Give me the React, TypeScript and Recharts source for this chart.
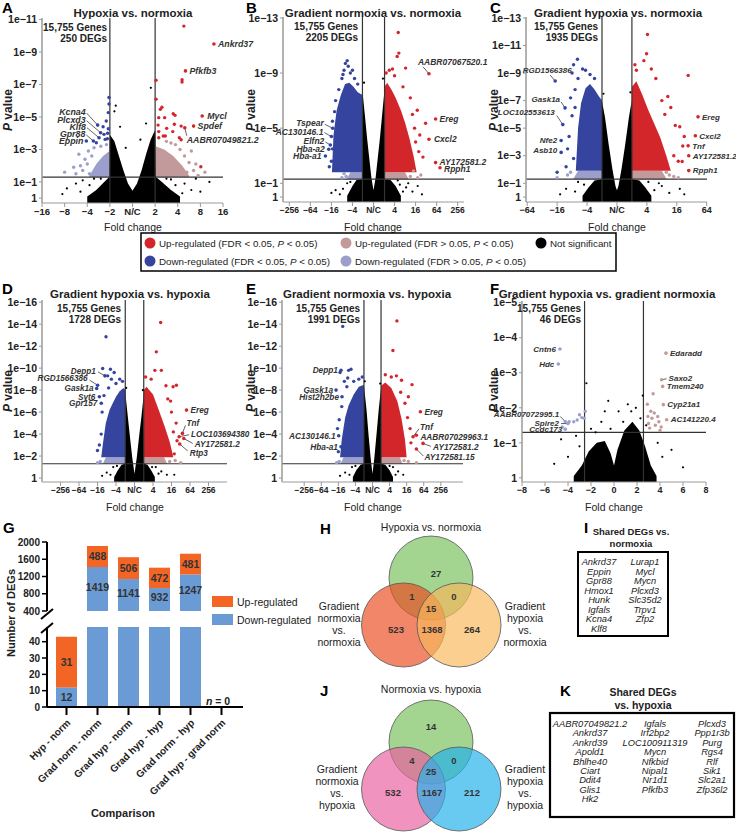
import React from 'react';
import {
  ComposedChart, Area, Scatter, XAxis, YAxis, ReferenceLine,
  BarChart, Bar, LabelList, ScatterChart,
} from 'recharts';

const FONT = '"Liberation Sans", Arial, Helvetica, sans-serif';
type P = [number, number];
type G = [string, number, number];

const RED = '#d3262b';
const BLUE = '#34449f';
const LRED = '#c39a9c';
const LBLUE = '#9c9fcb';
const AXIS = '#9a9a9a';

// ---------------- Volcano data (x = signed log2 fold change, y = -log10 P) ----------------
const panelTitles = ['Hypoxia vs. normoxia', 'Gradient normoxia vs. normoxia', 'Gradient hypoxia vs. normoxia',
  'Gradient hypoxia vs. hypoxia', 'Gradient normoxia vs. hypoxia', 'Gradient hypoxia vs. gradient normoxia'];
const geneTotals = ['15,755 Genes', '15,755 Genes', '15,755 Genes', '15,755 Genes', '15,755 Genes', '15,755 Genes'];
const degTotals = ['250 DEGs', '2205 DEGs', '1935 DEGs', '1728 DEGs', '1991 DEGs', '46 DEGs'];

const log2Labels16 = ['−16', '−8', '−4', '−2', 'N/C', '2', '4', '8', '16'];
const log2Labels256 = ['−256', '−64', '−16', '−4', 'N/C', '4', '16', '64', '256'];
const log2Labels64 = ['−64', '−16', '−4', 'N/C', '4', '16', '64'];
const linLabels8 = ['−8', '−6', '−4', '−2', '0', '2', '4', '6', '8'];

// A
const aBlackEnv: P[] = [[-2.0, 0.1], [-1.6, 0.5], [-1.25, 1.0], [-1.03, 1.3], [-1.0, 3.9], [-0.8, 3.5], [-0.6, 2.6], [-0.4, 1.7], [-0.2, 0.9], [0, 0.45], [0.2, 0.9], [0.4, 1.7], [0.6, 2.7], [0.8, 3.6], [1.0, 4.2], [1.04, 1.3], [1.3, 1.0], [1.7, 0.5], [2.1, 0.1]];
const aLblueEnv: P[] = [[-1.9, 1.4], [-1.6, 2.1], [-1.3, 2.6], [-1.02, 2.9]];
const aLredEnv: P[] = [[1.02, 3.2], [1.4, 3.0], [1.8, 2.6], [2.2, 2.0], [2.5, 1.4]];
const aBlack: P[] = [[-0.74, 5.7], [-0.8, 5.35], [-0.55, 4.4], [0.81, 6.8], [0.6, 4.6], [0.35, 3.6], [-0.3, 3.1], [-2.5, 0.9], [-2.9, 0.6], [-3.1, 0.25], [-2.2, 1.1], [2.3, 0.9], [2.6, 0.5], [3.4, 1.0], [3.0, 0.4], [2.8, 1.2], [-1.7, 1.2], [1.7, 1.15], [-1.9, 0.8], [-2.3, 0.4], [1.9, 0.8], [2.2, 0.3], [-1.4, 1.2], [1.5, 1.2]];
const aBlue: P[] = [[-1.04, 6.2], [-1.04, 5.8], [-1.07, 5.27], [-1.16, 4.75], [-1.07, 4.28], [-1.26, 3.93], [-1.6, 3.41], [-1.21, 3.62], [-1.11, 3.66], [-1.1, 4.0], [-1.3, 4.4]];
const aRed: P[] = [[2.27, 10.6], [2.19, 7.3], [2.19, 7.15], [1.04, 7.26], [1.04, 6.1], [1.3, 5.6], [1.23, 5.47], [1.8, 5.2], [1.88, 5.1], [1.16, 4.96], [1.42, 4.96], [1.85, 4.55], [1.13, 4.5], [2.15, 4.44], [1.51, 4.3], [1.78, 4.1], [1.16, 4.1], [1.16, 3.72], [1.36, 3.83], [1.45, 3.83], [2.07, 3.72], [2.15, 3.6], [3.02, 1.93]];
const aLblue: P[] = [[-3.0, 1.6], [-2.37, 2.7], [-2.3, 2.0], [-2.1, 2.4], [-1.95, 2.9], [-1.8, 2.6], [-2.2, 1.7], [-1.7, 3.1], [-1.4, 3.2], [-2.5, 1.5], [-1.9, 1.5], [-1.15, 3.3], [-2.6, 1.9], [-2.0, 2.1]];
const aLred: P[] = [[2.9, 1.4], [2.7, 1.7], [2.5, 2.2], [2.3, 2.6], [2.1, 3.0], [1.9, 3.3], [2.6, 2.9], [1.5, 3.5], [3.2, 1.6], [2.4, 1.6], [2.8, 2.1], [1.7, 3.4]];
const aBlueGenes: G[] = [['Kcna4', -1.54, 4.5], ['Plcxd3', -1.41, 4.03], ['Klf8', -1.48, 3.72], ['Gpr88', -1.73, 3.52], ['Eppin', -2.04, 3.52]];
const aRedGenes: G[] = [['Ankrd37', 3.6, 9.5], ['Pfkfb3', 2.34, 7.84], ['Mycl', 3.08, 5.06], ['Spdef', 2.7, 4.44], ['AABR07049821.2', 2.31, 4.34]];

// B
const bBlackEnv: P[] = [[-2.5, 0.1], [-2.0, 0.8], [-1.6, 1.25], [-1.08, 1.3], [-1.04, 7.6], [-0.8, 5.8], [-0.6, 4.2], [-0.4, 2.8], [-0.2, 1.4], [0, 0.5], [0.2, 1.4], [0.4, 2.8], [0.6, 4.2], [0.8, 5.8], [1.05, 7.8], [1.1, 1.3], [1.6, 1.25], [2.1, 0.8], [2.6, 0.1]];
const bLblueEnv: P[] = [[-2.5, 1.35], [-2.2, 1.8], [-1.05, 1.8]];
const bLredEnv: P[] = [[1.05, 1.8], [3.0, 1.8], [3.3, 1.35]];
const bBlueEnv: P[] = [[-3.95, 1.8], [-3.8, 4.5], [-3.5, 6.3], [-3.1, 7.4], [-2.7, 8.2], [-2.3, 8.3], [-1.9, 8.0], [-1.5, 7.6], [-1.05, 7.4]];
const bRedEnv: P[] = [[1.05, 8.0], [1.3, 8.3], [1.7, 7.8], [2.1, 7.2], [2.6, 6.3], [3.0, 5.4], [3.4, 4.3], [3.8, 3.0], [4.1, 1.8]];
const bBlack: P[] = [[-3.6, 0.5], [-4.0, 0.3], [3.7, 0.4], [4.2, 0.8], [3.3, 1.0], [-0.9, 8.3], [0.9, 8.6], [2.5, 0.9], [-2.5, 1.0], [4.6, 0.2], [-2.9, 0.6], [-3.2, 0.2], [2.8, 0.4], [3.1, 0.7], [-2.2, 1.1], [2.3, 1.2]];
const bBlue: P[] = [[-2.67, 9.7], [-2.4, 9.5], [-2.8, 9.2], [-2.2, 9.0], [-3.0, 8.6], [-3.3, 7.8], [-3.6, 7.0], [-3.7, 6.2], [-3.9, 5.5], [-3.9, 3.5], [-4.0, 2.6], [-1.8, 8.6], [-1.5, 8.2], [-2.0, 9.2], [-3.4, 2.0], [-2.5, 9.9], [-2.9, 8.9], [-4.2, 2.2]];
const bRed: P[] = [[2.35, 11.95], [2.41, 10.45], [2.25, 10.2], [3.05, 9.36], [4.16, 6.3], [4.95, 5.36], [1.5, 9.2], [1.2, 9.0], [2.8, 8.0], [3.5, 7.2], [3.9, 5.0], [4.4, 4.5], [4.3, 3.3], [4.7, 2.9], [3.7, 6.0], [2.0, 8.8], [1.8, 9.3], [4.0, 4.0]];
const bLblue: P[] = [[-2.6, 1.5], [-3.0, 1.4], [-2.8, 1.7]];
const bLred: P[] = [[3.5, 1.5], [4.5, 1.6], [4.2, 1.4], [3.8, 1.9]];
const bBlueGenes: G[] = [['Tspear', -3.87, 4.99], ['AC130146.1', -4.0, 4.39], ['Elfn2', -4.1, 3.78], ['Hba-a2', -4.25, 3.47], ['Hba-a1', -4.57, 2.98]];
const bRedGenes: G[] = [['AABR07067520.1', 5.27, 8.95], ['Ereg', 5.9, 5.67], ['Cxcl2', 5.27, 4.2], ['AY172581.2', 5.9, 2.5], ['Rpph1', 6.32, 2.13]];

// C
const cBlackEnv: P[] = [[-2.3, 0.1], [-1.9, 0.7], [-1.5, 1.2], [-1.04, 1.3], [-1.01, 7.0], [-0.8, 5.8], [-0.55, 3.8], [-0.3, 2.0], [-0.1, 0.8], [0, 0.5], [0.1, 0.8], [0.3, 2.0], [0.55, 3.8], [0.8, 5.8], [0.99, 7.0], [1.03, 1.3], [1.5, 1.2], [1.9, 0.7], [2.3, 0.1]];
const cLblueEnv: P[] = [[-2.9, 1.35], [-2.6, 1.9], [-1.0, 1.9]];
const cLredEnv: P[] = [[1.0, 1.9], [3.0, 1.9], [3.3, 1.35]];
const cBlueEnv: P[] = [[-2.75, 1.9], [-2.6, 5.0], [-2.4, 6.8], [-2.1, 7.9], [-1.8, 8.2], [-1.5, 7.8], [-1.2, 7.3], [-1.0, 7.0]];
const cRedEnv: P[] = [[1.0, 8.0], [1.3, 8.4], [1.7, 7.4], [2.1, 6.3], [2.5, 5.3], [2.9, 4.3], [3.3, 3.0], [3.6, 1.9]];
const cBlack: P[] = [[-3.4, 0.6], [-3.8, 0.2], [3.5, 0.3], [4.2, 0.6], [4.5, 0.2], [2.8, 1.0], [-2.6, 1.1], [-0.9, 7.5], [0.9, 7.6], [-1.5, 0.3], [-2.8, 0.4], [2.5, 0.5], [3.0, 0.8], [-2.2, 0.9], [2.1, 1.1]];
const cBlue: P[] = [[-2.64, 10.0], [-2.9, 9.6], [-3.0, 9.0], [-2.3, 9.3], [-2.1, 9.2], [-3.2, 4.4], [-3.3, 3.5], [-3.1, 7.2], [-2.8, 7.8], [-3.0, 5.9], [-2.9, 2.8], [-4.0, 1.8], [-1.8, 8.9], [-2.6, 8.6], [-3.4, 2.2], [-2.8, 6.5], [-1.5, 8.6]];
const cRed: P[] = [[2.04, 11.8], [1.98, 10.4], [1.8, 9.9], [1.3, 9.2], [1.2, 9.6], [2.3, 9.3], [2.6, 8.6], [4.76, 8.83], [4.36, 2.58], [3.6, 6.5], [3.9, 5.2], [4.2, 5.1], [3.4, 7.3], [4.4, 3.7], [3.8, 3.0], [3.0, 7.0], [4.1, 2.6], [3.2, 6.0], [4.5, 4.4]];
const cLblue: P[] = [[-4.0, 1.4], [-3.3, 1.6], [-3.1, 1.8]];
const cLred: P[] = [[3.5, 1.6], [3.8, 1.5], [4.1, 1.4], [3.3, 1.8]];
const cBlueGenes: G[] = [['RGD1566386', -4.13, 8.42], ['Gask1a', -3.47, 6.47], ['LOC102553613', -3.62, 5.26], ['Nfe2', -3.73, 4.11], ['Asb10', -3.73, 3.24]];
const cRedGenes: G[] = [['Ereg', 5.42, 5.82], ['Cxcl2', 5.24, 4.45], ['Tnf', 4.76, 3.72], ['AY172581.2', 4.8, 3.0], ['Rpph1', 4.8, 1.92]];

// D
const dBlackEnv: P[] = [[-2.2, 0.1], [-1.8, 0.7], [-1.4, 1.2], [-1.03, 1.3], [-1.0, 7.8], [-0.75, 5.8], [-0.5, 3.8], [-0.25, 1.9], [0, 0.4], [0.25, 1.9], [0.5, 3.8], [0.75, 5.6], [1.0, 7.6], [1.03, 1.3], [1.4, 1.2], [1.8, 0.7], [2.2, 0.1]];
const dLblueEnv: P[] = [[-3.4, 1.35], [-3.1, 1.9], [-1.0, 1.9]];
const dLredEnv: P[] = [[1.0, 1.9], [3.2, 1.9], [3.5, 1.35]];
const dBlueEnv: P[] = [[-3.6, 1.9], [-3.4, 3.2], [-3.1, 5.0], [-2.7, 6.2], [-2.3, 6.9], [-2.0, 7.4], [-1.6, 7.9], [-1.2, 8.2], [-1.0, 8.0]];
const dRedEnv: P[] = [[1.0, 8.0], [1.3, 8.3], [2.0, 7.6], [2.7, 6.0], [3.3, 4.6], [3.8, 3.3], [4.2, 1.9]];
const dBlack: P[] = [[-3.0, 0.5], [-3.5, 0.2], [2.9, 0.6], [3.5, 0.3], [-0.9, 8.2], [0.9, 8.0], [2.3, 1.0], [-2.3, 1.0], [4.3, 0.3], [-2.6, 0.3], [2.6, 0.4], [-1.9, 1.1], [1.9, 1.0]];
const dBlue: P[] = [[-3.08, 12.85], [-3.44, 9.97], [-2.6, 9.9], [-2.9, 9.3], [-2.2, 9.6], [-2.5, 9.0], [-1.6, 9.0], [-3.6, 4.0], [-3.8, 3.0], [-4.0, 2.5], [-3.3, 7.5], [-2.0, 8.6], [-1.3, 8.8], [-3.5, 6.0], [-2.8, 8.2]];
const dRed: P[] = [[2.83, 14.15], [2.36, 11.48], [2.9, 9.8], [2.2, 9.8], [1.2, 9.2], [4.17, 8.3], [4.53, 8.45], [3.6, 7.2], [3.4, 8.4], [1.8, 9.0], [4.5, 5.0], [4.2, 4.2], [4.6, 3.4], [4.0, 6.0], [4.3, 2.2], [3.9, 7.0]];
const dLblue: P[] = [[-3.7, 1.5], [-4.0, 1.4]];
const dLred: P[] = [[3.8, 1.5], [4.4, 1.6], [5.0, 1.4]];
const dBlueGenes: G[] = [['Depp1', -3.2, 9.3], ['RGD1566386', -3.99, 8.45], ['Gask1a', -4.09, 8.15], ['Syt6', -3.8, 7.4], ['Gpr157', -3.59, 6.8]];
const dRedGenes: G[] = [['Ereg', 5.62, 6.18], ['Tnf', 5.18, 4.06], ['LOC103694380', 4.82, 3.76], ['AY172581.2', 5.33, 3.6], ['Rtp3', 4.89, 3.1]];

// E
const eBlackEnv: P[] = [[-2.3, 0.1], [-1.9, 0.7], [-1.4, 1.2], [-1.03, 1.3], [-1.0, 8.4], [-0.7, 6.2], [-0.45, 3.8], [-0.2, 1.7], [0, 0.4], [0.2, 1.7], [0.45, 3.8], [0.75, 6.4], [1.0, 8.2], [1.03, 1.3], [1.5, 1.2], [2.0, 0.7], [2.4, 0.1]];
const eLblueEnv: P[] = [[-3.7, 1.35], [-3.4, 1.9], [-1.0, 1.9]];
const eLredEnv: P[] = [[1.0, 1.9], [3.2, 1.9], [3.5, 1.35]];
const eBlueEnv: P[] = [[-3.8, 1.9], [-3.6, 3.5], [-3.2, 5.5], [-2.8, 6.6], [-2.2, 7.6], [-1.6, 8.3], [-1.0, 8.5]];
const eRedEnv: P[] = [[1.0, 8.4], [1.5, 8.7], [2.2, 8.2], [2.9, 7.0], [3.4, 5.4], [3.8, 3.5], [4.0, 1.9]];
const eBlack: P[] = [[-3.2, 0.5], [-3.8, 0.2], [3.0, 0.6], [3.6, 0.3], [-0.9, 8.8], [0.9, 8.6], [2.4, 1.0], [-2.4, 1.0], [-2.7, 0.3], [2.7, 0.3], [-2.0, 1.1], [2.0, 1.1]];
const eBlue: P[] = [[-3.49, 13.8], [-2.52, 9.9], [-2.8, 9.8], [-3.8, 9.6], [-2.9, 9.1], [-2.2, 8.8], [-1.6, 9.0], [-3.3, 8.8], [-3.9, 5.3], [-4.1, 4.5], [-3.0, 8.3], [-1.2, 9.2], [-4.0, 2.4], [-3.6, 6.5]];
const eRed: P[] = [[2.86, 14.3], [2.39, 11.6], [2.2, 9.2], [2.8, 9.3], [3.4, 8.9], [4.63, 8.5], [4.2, 7.4], [4.4, 4.5], [4.1, 5.5], [3.8, 6.8], [1.5, 9.4], [4.5, 3.2], [3.3, 7.8]];
const eLblue: P[] = [[-3.9, 1.5], [-4.2, 1.4]];
const eLred: P[] = [[5.14, 1.4], [4.2, 1.5], [3.7, 1.6]];
const eBlueGenes: G[] = [['Depp1', -3.69, 9.8], ['Gask1a', -4.27, 8.0], ['Hist2h2be', -3.57, 7.4], ['AC130146.1', -3.96, 3.85], ['Hba-a1', -3.69, 2.85]];
const eRedGenes: G[] = [['Ereg', 5.61, 6.03], ['Tnf', 4.75, 3.76], ['AABR07029963.1', 5.14, 3.9], ['AY172581.2', 5.92, 3.15], ['AY172581.15', 5.14, 2.64]];

// F
const fBlackEnv: P[] = [[-3.5, 0.05], [-2.8, 0.35], [-2.2, 0.75], [-1.5, 1.0], [-0.8, 1.05], [-0.3, 0.7], [0.0, 0.35], [0.3, 0.8], [0.9, 1.35], [1.6, 1.6], [2.2, 1.35], [2.7, 0.9], [3.2, 0.35], [3.7, 0.05]];
const fBlack: P[] = [[-2.4, 2.7], [2.5, 2.35], [1.9, 2.0], [1.5, 1.9], [1.2, 2.1], [-0.8, 1.9], [-1.1, 1.6], [-2.0, 1.4], [-3.0, 0.9], [-4.0, 0.6], [-5.2, 0.4], [3.8, 1.0], [4.2, 0.6], [5.0, 0.8], [2.3, 1.7], [0.8, 1.6], [-0.3, 1.4], [-1.6, 1.3], [-4.6, 1.1], [6.0, 0.3], [-0.5, 2.2], [0.4, 1.9], [2.8, 1.5], [-3.3, 1.2]];
const fLblue: P[] = [[-3.5, 1.6], [-3.2, 1.65], [-3.9, 1.6], [-3.0, 1.8], [-2.8, 1.72], [-2.6, 1.7], [-2.5, 1.9], [-4.5, 1.45]];
const fLred: P[] = [[3.0, 1.55], [3.3, 1.7], [3.6, 1.5], [3.9, 1.6], [4.1, 1.45], [3.2, 1.9], [3.5, 1.85], [2.95, 1.75], [3.8, 1.75], [3.4, 2.4], [4.0, 1.35], [3.1, 1.42], [2.9, 2.1]];
const fLblueGenes: G[] = [['Cntn6', -4.7, 3.68], ['Hdc', -4.84, 3.25], ['AABR07072995.1', -4.24, 1.61], ['Spire2', -4.0, 1.55], ['Ccdc173', -4.24, 1.39]];
const fLredGenes: G[] = [['Edaradd', 4.52, 3.56], ['Saxo2', 4.14, 2.8], ['Tmem240', 4.23, 2.61], ['Cyp21a1', 4.29, 2.09], ['AC141220.4', 4.58, 1.66]];

// ---------------- G data ----------------
const comparisons = ['Hyp - norm', 'Grad norm - norm', 'Grad hyp - norm', 'Grad hyp - hyp', 'Grad norm - hyp', 'Grad hyp - grad norm'];
const downDEGs = [12, 1419, 1141, 932, 1247, 0];
const upDEGs = [31, 488, 506, 472, 481, 0];
const topTicks = [400, 800, 1200, 1600, 2000];
const lowTicks = [0, 10, 20, 30, 40];

// ---------------- Venn data ----------------
const vennHCounts = [27, 1, 0, 15, 523, 1368, 264];
const vennJCounts = [14, 4, 0, 25, 532, 1167, 212];
const sharedVsNormoxia = [['Ankrd37', 'Eppin', 'Gpr88', 'Hmox1', 'Hunk', 'Igfals', 'Kcna4', 'Klf8'], ['Lurap1', 'Mycl', 'Mycn', 'Plcxd3', 'Slc35d2', 'Trpv1', 'Zfp2']];
const sharedVsHypoxia = [
  ['AABR07049821.2', 'Ankrd37', 'Ankrd39', 'Apold1', 'Bhlhe40', 'Ciart', 'Ddit4', 'Glis1', 'Hk2'],
  ['Igfals', 'Irf2bp2', 'LOC100911319', 'Mycn', 'Nfkbid', 'Nipal1', 'Nr1d1', 'Pfkfb3'],
  ['Plcxd3', 'Ppp1r3b', 'Purg', 'Rgs4', 'Rlf', 'Sik1', 'Slc2a1', 'Zfp36l2'],
];

// ---------------- styles / layout ----------------
type LS = { dx: number; dy: number; anchor?: string; line?: [number, number] };
const S = (dx: number, dy = 0, anchor?: string, line?: [number, number]): LS => ({ dx, dy, anchor, line });

const aLabelStyle: Record<string, LS> = { Kcna4: S(-12, -13, 'end', [-11, -12]), Plcxd3: S(-15, -13, 'end', [-14, -12]), Klf8: S(-13, -11, 'end', [-12, -10]), Gpr88: S(-8, -7, 'end', [-7, -6]), Eppin: S(-3), Ankrd37: S(4), Pfkfb3: S(4), Mycl: S(5), Spdef: S(4), 'AABR07049821.2': S(2, 12, 'start', [2, 8]) };
const bLabelStyle: Record<string, LS> = { 'AABR07067520.1': S(-11, -12, 'start', [-6, -7]), Ereg: S(4), Cxcl2: S(5), 'AY172581.2': S(4, -1), Rpph1: S(4, 1), Tspear: S(-9, -5, 'end', [-8, -4]), 'AC130146.1': S(-8, -5, 'end', [-7, -4]), Elfn2: S(-6, -4, 'end', [-5, -3]), 'Hba-a2': S(-4), 'Hba-a1': S(-4) };
const cLabelStyle: Record<string, LS> = { RGD1566386: S(-8, -11, 'middle', [-5, -6]), Gask1a: S(-5, -9, 'end', [-4, -6]), LOC102553613: S(-8, -12, 'end', [-6, -9]), Nfe2: S(-4), Asb10: S(-4, -2), Ereg: S(4), Cxcl2: S(4), Tnf: S(4), 'AY172581.2': S(4), Rpph1: S(4) };
const dLabelStyle: Record<string, LS> = { Depp1: S(-9, -5, 'end', [-7, -4]), RGD1566386: S(-10, -7, 'end', [-8, -5]), Gask1a: S(-3), Syt6: S(-4), Gpr157: S(-4), Ereg: S(4), Tnf: S(4, -10, 'start', [3, -8]), LOC103694380: S(12, -3, 'start', [10, -2]), 'AY172581.2': S(11, 6, 'start', [9, 5]), Rtp3: S(10, 9, 'start', [8, 7]) };
const eLabelStyle: Record<string, LS> = { Depp1: S(-3), Gask1a: S(-3), Hist2h2be: S(-3), 'AC130146.1': S(-3), 'Hba-a1': S(-3), Ereg: S(4), Tnf: S(7, -10, 'start', [6, -8]), 'AABR07029963.1': S(4, 2), 'AY172581.2': S(10, 4, 'start', [8, 3]), 'AY172581.15': S(8, 8, 'start', [7, 7]) };
const fLabelStyle: Record<string, LS> = { Cntn6: S(-4), Hdc: S(-4), 'AABR07072995.1': S(-6, -7, 'end', [-5, -5]), Spire2: S(-9, 0, 'end', [-7, 0]), Ccdc173: S(-3), Edaradd: S(4), Saxo2: S(7, -2, 'start', [5, -1]), Tmem240: S(4), Cyp21a1: S(4), 'AC141220.4': S(4) };

interface VSpec {
  id: string; left: number; top: number; width: number; height: number;
  margin: { top: number; right: number; left: number; bottom: number };
  yWidth: number; xHeight: number; xFont: number; lblFont: number;
  xDomain: [number, number]; xTicks: number[]; xLabels: string[];
  yDomain: [number, number]; yTicks: number[];
  vLine: number; hLine: number; base: number;
  blackEnv: P[]; lblueEnv: P[]; lredEnv: P[]; blueEnv: P[]; redEnv: P[];
  black: P[]; lblue: P[]; lred: P[]; blue: P[]; red: P[];
  genes: { g: G[]; color: string }[];
  labelStyle: Record<string, LS>;
}

const ticks8 = [-8, -6, -4, -2, 0, 2, 4, 6, 8];

const volcanoes: VSpec[] = [
  { id: 'A', left: 0, top: 0, width: 262, height: 233, margin: { top: 18, right: 39, left: 0, bottom: 0 }, yWidth: 42, xHeight: 30, xFont: 9.5, lblFont: 8.8,
    xDomain: [-4, 4], xTicks: [-4, -3, -2, -1, 0, 1, 2, 3, 4], xLabels: log2Labels16, yDomain: [-0.3, 11.1], yTicks: [0, 1, 3, 5, 7, 9, 11],
    vLine: 1, hLine: 1.3, base: 1.3, blackEnv: aBlackEnv, lblueEnv: aLblueEnv, lredEnv: aLredEnv, blueEnv: [], redEnv: [],
    black: aBlack, lblue: aLblue, lred: aLred, blue: aBlue, red: aRed, genes: [{ g: aBlueGenes, color: BLUE }, { g: aRedGenes, color: RED }], labelStyle: aLabelStyle },
  { id: 'B', left: 245, top: 0, width: 245, height: 232, margin: { top: 17, right: 26, left: 0, bottom: 0 }, yWidth: 38, xHeight: 30, xFont: 8.5, lblFont: 8.5,
    xDomain: [-8.6, 8.6], xTicks: ticks8, xLabels: log2Labels256, yDomain: [-0.36, 13.07], yTicks: [0, 1, 5, 9, 13],
    vLine: 1.05, hLine: 1.3, base: 1.8, blackEnv: bBlackEnv, lblueEnv: bLblueEnv, lredEnv: bLredEnv, blueEnv: bBlueEnv, redEnv: bRedEnv,
    black: bBlack, lblue: bLblue, lred: bLred, blue: bBlue, red: bRed, genes: [{ g: bBlueGenes, color: BLUE }, { g: bRedGenes, color: RED }], labelStyle: bLabelStyle },
  { id: 'C', left: 490, top: 0, width: 246, height: 232, margin: { top: 17, right: 29, left: 0, bottom: 0 }, yWidth: 36, xHeight: 30, xFont: 9, lblFont: 8,
    xDomain: [-6.08, 6.02], xTicks: [-6, -4, -2, 0, 2, 4, 6], xLabels: log2Labels64, yDomain: [-0.36, 13.07], yTicks: [0, 1, 3, 5, 7, 9, 11, 13],
    vLine: 1, hLine: 1.3, base: 1.9, blackEnv: cBlackEnv, lblueEnv: cLblueEnv, lredEnv: cLredEnv, blueEnv: cBlueEnv, redEnv: cRedEnv,
    black: cBlack, lblue: cLblue, lred: cLred, blue: cBlue, red: cRed, genes: [{ g: cBlueGenes, color: BLUE }, { g: cRedGenes, color: RED }], labelStyle: cLabelStyle },
  { id: 'D', left: 0, top: 270, width: 262, height: 242, margin: { top: 30, right: 35, left: 0, bottom: 0 }, yWidth: 42, xHeight: 30, xFont: 8.5, lblFont: 8.2,
    xDomain: [-10, 10], xTicks: ticks8, xLabels: log2Labels256, yDomain: [-0.36, 16.2], yTicks: [0, 2, 4, 6, 8, 10, 12, 14, 16],
    vLine: 1, hLine: 1.3, base: 1.9, blackEnv: dBlackEnv, lblueEnv: dLblueEnv, lredEnv: dLredEnv, blueEnv: dBlueEnv, redEnv: dRedEnv,
    black: dBlack, lblue: dLblue, lred: dLred, blue: dBlue, red: dRed, genes: [{ g: dBlueGenes, color: BLUE }, { g: dRedGenes, color: RED }], labelStyle: dLabelStyle },
  { id: 'E', left: 245, top: 270, width: 245, height: 242, margin: { top: 30, right: 27, left: 0, bottom: 0 }, yWidth: 37, xHeight: 30, xFont: 8.5, lblFont: 8.3,
    xDomain: [-10.6, 10.6], xTicks: ticks8, xLabels: log2Labels256, yDomain: [-0.36, 16.2], yTicks: [0, 2, 4, 6, 8, 10, 12, 14, 16],
    vLine: 1, hLine: 1.3, base: 1.9, blackEnv: eBlackEnv, lblueEnv: eLblueEnv, lredEnv: eLredEnv, blueEnv: eBlueEnv, redEnv: eRedEnv,
    black: eBlack, lblue: eLblue, lred: eLred, blue: eBlue, red: eRed, genes: [{ g: eBlueGenes, color: BLUE }, { g: eRedGenes, color: RED }], labelStyle: eLabelStyle },
  { id: 'F', left: 490, top: 270, width: 246, height: 242, margin: { top: 31, right: 30, left: 0, bottom: 0 }, yWidth: 32, xHeight: 30, xFont: 9, lblFont: 8,
    xDomain: [-8, 8], xTicks: ticks8, xLabels: linLabels8, yDomain: [-0.12, 5.05], yTicks: [0, 1, 2, 3, 4, 5],
    vLine: 2.56, hLine: 1.3, base: 1.9, blackEnv: fBlackEnv, lblueEnv: [], lredEnv: [], blueEnv: [], redEnv: [],
    black: fBlack, lblue: fLblue, lred: fLred, blue: [], red: [], genes: [{ g: fLblueGenes, color: LBLUE }, { g: fLredGenes, color: LRED }], labelStyle: fLabelStyle },
];

function mergeEnv(sets: Record<string, P[]>) {
  const rows: any[] = [];
  Object.keys(sets).forEach((k) => sets[k].forEach(([x, y]) => rows.push({ x, [k]: y })));
  rows.sort((a, b) => a.x - b.x);
  return rows;
}
const pts = (arr: P[]) => arr.map(([x, y]) => ({ x, y }));
const fmtP = (v: number) => (v === 0 ? '1' : `1e−${v}`);

function Volcano({ s }: { s: VSpec }) {
  const envSets: Record<string, P[]> = { blk: s.blackEnv, lb: s.lblueEnv, lr: s.lredEnv, b: s.blueEnv, r: s.redEnv };
  const envData = mergeEnv(envSets);
  const dot = (color: string, r: number) => (p: any) => <circle cx={p.cx} cy={p.cy} r={r} fill={color} />;
  const labelData: any[] = [];
  s.genes.forEach(({ g, color }) => g.forEach(([gene, x, y]) => labelData.push({ gene, x, y, color })));
  const labelShape = (p: any) => {
    const st = s.labelStyle[p.payload.gene] || S(4);
    const anchor = st.anchor || (st.dx < 0 ? 'end' : 'start');
    return (
      <g>
        {st.line ? <line x1={p.cx} y1={p.cy} x2={p.cx + st.line[0]} y2={p.cy + st.line[1]} stroke="#222" strokeWidth={0.7} /> : null}
        <circle cx={p.cx} cy={p.cy} r={1.8} fill={p.payload.color} />
        <text x={p.cx + st.dx} y={p.cy + st.dy} dy="0.35em" textAnchor={anchor} fontSize={s.lblFont} fontStyle="italic" fontWeight={700} fill="#333" fontFamily={FONT}>{p.payload.gene}</text>
      </g>
    );
  };
  const tickStyle = { fontSize: s.xFont, fontWeight: 700, fill: '#222', fontFamily: FONT };
  const areaCommon = { type: 'linear' as const, fillOpacity: 1, stroke: 'none', connectNulls: true, isAnimationActive: false, dot: false, activeDot: false };
  const areas: [string, string, number][] = [['blk', '#000', s.yDomain[0]], ['lb', LBLUE, s.hLine], ['lr', LRED, s.hLine], ['b', BLUE, s.base], ['r', RED, s.base]];
  const scatters: [P[], string, number][] = [[s.black, '#000', 1.1], [s.lblue, LBLUE, 1.7], [s.lred, LRED, 1.7], [s.blue, BLUE, 1.7], [s.red, RED, 1.7]];
  return (
    <div style={{ position: 'absolute', left: s.left, top: s.top }}>
      <ComposedChart width={s.width} height={s.height} data={envData} margin={s.margin}>
        <XAxis type="number" dataKey="x" domain={s.xDomain} ticks={s.xTicks} interval={0}
          tickFormatter={(v: number) => s.xLabels[s.xTicks.indexOf(v)] ?? ''} height={s.xHeight}
          tick={tickStyle} tickSize={4} tickMargin={1} axisLine={{ stroke: AXIS }} tickLine={{ stroke: AXIS }} />
        <YAxis type="number" domain={s.yDomain} ticks={s.yTicks} interval={0} tickFormatter={fmtP}
          width={s.yWidth} tick={{ fontSize: 10.5, fontWeight: 700, fill: '#222', fontFamily: FONT }} tickSize={3} tickMargin={2}
          axisLine={{ stroke: AXIS, strokeWidth: 1.5 }} tickLine={{ stroke: AXIS }} />
        {areas.filter(([k]) => envSets[k].length > 0).map(([k, c, base]) => (
          <Area key={k} dataKey={k} fill={c} baseValue={base} {...areaCommon} />
        ))}
        {scatters.filter(([arr]) => arr.length > 0).map(([arr, c, r], i) => (
          <Scatter key={'s' + i} data={pts(arr)} dataKey="y" shape={dot(c, r)} isAnimationActive={false} />
        ))}
        <ReferenceLine x={-s.vLine} stroke="#333" strokeWidth={1.2} />
        <ReferenceLine x={s.vLine} stroke="#333" strokeWidth={1.2} />
        <ReferenceLine y={s.hLine} stroke="#333" strokeWidth={1.2} />
        <Scatter data={labelData} dataKey="y" shape={labelShape} isAnimationActive={false} />
      </ComposedChart>
    </div>
  );
}

// ---------------- G: broken-axis stacked bars ----------------
const ORANGE = '#f26524';
const BARBLUE = '#6b9bd4';
const barRows = comparisons.map((c, i) => ({ c, down: downDEGs[i], up: upDEGs[i] }));
const TOP_PLOT_BOTTOM = 8 + 69;

function vb(p: any) {
  const v = p.viewBox || p;
  return { x: v.x ?? p.x, y: v.y ?? p.y, w: v.width ?? p.width, h: v.height ?? p.height };
}
const barText = (x: number, y: number, v: any) => (
  <text x={x} y={y} dy="0.35em" textAnchor="middle" fontSize={10.5} fontWeight={700} fill="#333" fontFamily={FONT}>{v}</text>
);

function DegBars() {
  const tick = { fontSize: 10, fontWeight: 700, fill: '#222', fontFamily: FONT };
  const topDown = (p: any) => {
    const r = vb(p); const v = Number(p.value);
    if (!(v >= 400)) return null;
    const bottom = Math.min(r.y + r.h, TOP_PLOT_BOTTOM);
    return barText(r.x + r.w / 2, (r.y + bottom) / 2 - 2, v);
  };
  const topUp = (p: any) => {
    const r = vb(p); const v = Number(p.value);
    if (!(v >= 100)) return null;
    return barText(r.x + r.w / 2, r.y + r.h / 2, v);
  };
  const lowLabel = (p: any) => {
    const r = vb(p); const v = Number(p.value);
    if (!(v > 0 && v <= 49)) return null;
    return barText(r.x + r.w / 2, r.y + r.h / 2, v);
  };
  const CompTick = (p: any) => (
    <text x={p.x + 2} y={p.y + 4} transform={`rotate(-45 ${p.x + 2} ${p.y + 4})`} textAnchor="end" dy="0.35em"
      fontSize={10} fontWeight={700} fill="#222" fontFamily={FONT}>{p.payload.value}</text>
  );
  return (
    <>
      <div style={{ position: 'absolute', left: 0, top: 534 }}>
        <BarChart width={250} height={85} data={barRows} margin={{ top: 8, right: 7, left: 0, bottom: 8 }} barSize={21}>
          <XAxis dataKey="c" hide padding={{ left: 4, right: 6 }} />
          <YAxis type="number" domain={[400, 2000]} allowDataOverflow ticks={topTicks} interval={0} width={47}
            tick={tick} tickSize={5} tickMargin={2} axisLine={{ stroke: '#000', strokeWidth: 2 }} tickLine={{ stroke: '#000', strokeWidth: 1.5 }} />
          <Bar dataKey="down" stackId="s" fill={BARBLUE} isAnimationActive={false}>
            <LabelList dataKey="down" content={topDown} />
          </Bar>
          <Bar dataKey="up" stackId="s" fill={ORANGE} isAnimationActive={false}>
            <LabelList dataKey="up" content={topUp} />
          </Bar>
        </BarChart>
      </div>
      <div style={{ position: 'absolute', left: 0, top: 619 }}>
        <BarChart width={250} height={188} data={barRows} margin={{ top: 8, right: 7, left: 0, bottom: 0 }} barSize={21}>
          <XAxis dataKey="c" padding={{ left: 4, right: 6 }} height={100} interval={0} tick={<CompTick />} tickSize={8}
            axisLine={{ stroke: '#000', strokeWidth: 2 }} tickLine={{ stroke: '#000', strokeWidth: 2 }} />
          <YAxis type="number" domain={[0, 49]} allowDataOverflow ticks={lowTicks} interval={0} width={47}
            tick={tick} tickSize={5} tickMargin={2} axisLine={{ stroke: '#000', strokeWidth: 2 }} tickLine={{ stroke: '#000', strokeWidth: 1.5 }} />
          <Bar dataKey="down" stackId="s" fill={BARBLUE} isAnimationActive={false}>
            <LabelList dataKey="down" content={lowLabel} />
          </Bar>
          <Bar dataKey="up" stackId="s" fill={ORANGE} isAnimationActive={false}>
            <LabelList dataKey="up" content={lowLabel} />
          </Bar>
        </BarChart>
      </div>
    </>
  );
}

// ---------------- Venn ----------------
const vennCircleLayout = [{ x: 0, y: 0.64 }, { x: -0.55, y: -0.3 }, { x: 0.56, y: -0.3 }];
const vennHCountLayout = [{ x: 0.1, y: 0.72 }, { x: -0.38, y: 0.26 }, { x: 0.46, y: 0.26 }, { x: 0, y: 0.02 }, { x: -0.7, y: -0.4 }, { x: 0.02, y: -0.4 }, { x: 0.82, y: -0.4 }];
const vennJCountLayout = [{ x: 0, y: 0.94 }, { x: -0.38, y: 0.26 }, { x: 0.46, y: 0.26 }, { x: 0, y: 0.04 }, { x: -0.76, y: -0.38 }, { x: 0.02, y: -0.38 }, { x: 0.82, y: -0.38 }];
const vennHColors = ['#77bf5b', '#ea4d22', '#f8b85b'];
const vennJColors = ['#77bf5b', '#e9609f', '#22b1ea'];
const VENN_R = 42;

function Venn({ left, top, colors, counts, countLayout }: any) {
  const circles = vennCircleLayout.map((c, i) => ({ ...c, i }));
  const cnt = countLayout.map((c: any, i: number) => ({ ...c, n: counts[i] }));
  return (
    <div style={{ position: 'absolute', left, top }}>
      <ScatterChart width={210} height={150} margin={{ top: 0, right: 0, bottom: 0, left: 0 }}>
        <XAxis type="number" dataKey="x" domain={[-2.1, 2.1]} hide allowDataOverflow />
        <YAxis type="number" dataKey="y" domain={[-1.5, 1.5]} hide allowDataOverflow />
        <Scatter data={circles} isAnimationActive={false}
          shape={(p: any) => <circle cx={p.cx} cy={p.cy} r={VENN_R} fill={colors[p.payload.i]} fillOpacity={0.68} stroke="#555" strokeWidth={0.8} />} />
        <Scatter data={cnt} isAnimationActive={false}
          shape={(p: any) => <text x={p.cx} y={p.cy} dy="0.35em" textAnchor="middle" fontSize={9.5} fontWeight={700} fill="#333" fontFamily={FONT}>{p.payload.n}</text>} />
      </ScatterChart>
    </div>
  );
}

// ---------------- Static text overlay ----------------
function T(props: any) {
  const { children, ...rest } = props;
  return <text fontFamily={FONT} fill="#222" dominantBaseline="central" {...rest}>{children}</text>;
}

function Overlay() {
  const letters: [string, number, number][] = [['A', 2, 7], ['B', 246, 7], ['C', 490, 7], ['D', 2, 288], ['E', 246, 288], ['F', 490, 288], ['G', 3, 527], ['H', 320, 528], ['I', 584, 527], ['J', 320, 690], ['K', 560, 690]];
  const titlePos: [number, number][] = [[133, 13], [373, 13], [618, 13], [130, 294], [367, 294], [607, 294]];
  const countPos: [number, number][] = [[107, 27], [358, 26], [598, 26], [121, 308], [360, 308], [581, 308]];
  const pvalPos: [number, number][] = [[8, 110], [251, 110], [494, 110], [8, 391], [251, 391], [494, 391]];
  const foldPos: [number, number][] = [[133, 227], [373, 227], [617, 227], [135, 507], [373, 507], [614, 507]];
  const legendRows = [
    [{ c: RED, t: 'Up-regulated (FDR < 0.05, ', x: 150 }, { c: LRED, t: 'Up-regulated (FDR > 0.05, ', x: 346 }, { c: '#000', t: 'Not significant', x: 541 }],
    [{ c: BLUE, t: 'Down-regulated (FDR < 0.05, ', x: 150 }, { c: LBLUE, t: 'Down-regulated (FDR > 0.05, ', x: 346 }],
  ];
  const vennSide = (x: number, y: number, lines: string[]) => lines.map((l, i) => <T key={l + i} x={x} y={y + i * 12} fontSize={10.5} textAnchor="middle">{l}</T>);
  return (
    <svg width={736} height={832} style={{ position: 'absolute', left: 0, top: 0, pointerEvents: 'none' }}>
      {letters.map(([l, x, y]) => <T key={l} x={x} y={y} fontSize={15} fontWeight={700} fill="#000">{l}</T>)}
      {panelTitles.map((t, i) => <T key={t} x={titlePos[i][0]} y={titlePos[i][1]} fontSize={11.5} fontWeight={700} textAnchor="middle">{t}</T>)}
      {geneTotals.map((t, i) => (
        <g key={'c' + i}>
          <T x={countPos[i][0]} y={countPos[i][1]} fontSize={10} fontWeight={700} textAnchor="end">{t}</T>
          <T x={countPos[i][0]} y={countPos[i][1] + 11} fontSize={10} fontWeight={700} textAnchor="end">{degTotals[i]}</T>
        </g>
      ))}
      {pvalPos.map(([x, y], i) => (
        <T key={'p' + i} x={0} y={0} fontSize={12} fontWeight={700} textAnchor="middle" transform={`translate(${x} ${y}) rotate(-90)`}>
          <tspan fontStyle="italic">P</tspan> value
        </T>
      ))}
      {foldPos.map(([x, y], i) => <T key={'f' + i} x={x} y={y} fontSize={10.5} textAnchor="middle">Fold change</T>)}

      {/* legend */}
      <rect x={141} y={233} width={475} height={38} fill="none" stroke="#000" strokeWidth={1.5} />
      {legendRows.map((row, ri) => row.map((it, k) => (
        <g key={`lg${ri}${k}`}>
          <circle cx={it.x} cy={243 + ri * 18} r={5.5} fill={it.c} />
          <T x={it.x + 9} y={243 + ri * 18} fontSize={9.8}>
            {it.t}{it.t !== 'Not significant' ? <><tspan fontStyle="italic">P</tspan> &lt; 0.05)</> : null}
          </T>
        </g>
      )))}

      {/* G extras */}
      <T x={0} y={0} fontSize={11} fontWeight={700} textAnchor="middle" transform="translate(11 613) rotate(-90)">Number of DEGs</T>
      <T x={123} y={813} fontSize={11} fontWeight={700} textAnchor="middle">Comparison</T>
      <T x={218} y={701} fontSize={10.5} fontWeight={700} textAnchor="middle"><tspan fontStyle="italic">n</tspan> = 0</T>
      <line x1={41} y1={619} x2={53} y2={609} stroke="#000" strokeWidth={2} />
      <line x1={41} y1={633} x2={53} y2={623} stroke="#000" strokeWidth={2} />
      <rect x={212} y={596} width={21} height={11} fill={ORANGE} />
      <rect x={212} y={614} width={21} height={11} fill={BARBLUE} />
      <T x={237} y={601.5} fontSize={10.5}>Up-regulated</T>
      <T x={237} y={619.5} fontSize={10.5}>Down-regulated</T>

      {/* Venn texts */}
      <T x={431} y={527} fontSize={10.5} textAnchor="middle">Hypoxia vs. normoxia</T>
      {vennSide(339, 606, ['Gradient', 'normoxia', 'vs.', 'normoxia'])}
      {vennSide(525, 606, ['Gradient', 'hypoxia', 'vs.', 'normoxia'])}
      <T x={431} y={689} fontSize={10.5} textAnchor="middle">Normoxia vs. hypoxia</T>
      {vennSide(337, 769, ['Gradient', 'normoxia', 'vs.', 'hypoxia'])}
      {vennSide(525, 769, ['Gradient', 'hypoxia', 'vs.', 'hypoxia'])}

      {/* I box */}
      <T x={631} y={531} fontSize={9.5} fontWeight={700} textAnchor="middle">Shared DEGs vs.</T>
      <T x={631} y={543} fontSize={9.5} fontWeight={700} textAnchor="middle">normoxia</T>
      <rect x={578} y={552} width={90} height={84} fill="none" stroke="#000" strokeWidth={2} />
      {sharedVsNormoxia.map((col, ci) => col.map((g, ri) => (
        <T key={'i' + g} x={ci === 0 ? 599 : 645} y={562 + ri * 9.5} fontSize={9.3} fontStyle="italic" textAnchor="middle">{g}</T>
      )))}

      {/* K box */}
      <T x={643} y={692} fontSize={10.5} fontWeight={700} textAnchor="middle">Shared DEGs</T>
      <T x={643} y={705} fontSize={10.5} fontWeight={700} textAnchor="middle">vs. hypoxia</T>
      <rect x={550} y={713} width={184} height={104} fill="none" stroke="#000" strokeWidth={2.2} />
      {sharedVsHypoxia.map((col, ci) => col.map((g, ri) => (
        <T key={'k' + ci + g} x={[590, 655, 712][ci]} y={724 + ri * 9.4} fontSize={9.3} fontStyle="italic" textAnchor="middle">{g}</T>
      )))}
    </svg>
  );
}

export default function App() {
  return (
    <div style={{ position: 'absolute', left: 0, top: 0, width: 736, height: 832, background: '#fff', overflow: 'hidden', fontFamily: FONT }}>
      {volcanoes.map((s) => <Volcano key={s.id} s={s} />)}
      <DegBars />
      <Venn left={326} top={535} colors={vennHColors} counts={vennHCounts} countLayout={vennHCountLayout} />
      <Venn left={326} top={699} colors={vennJColors} counts={vennJCounts} countLayout={vennJCountLayout} />
      <Overlay />
    </div>
  );
}
